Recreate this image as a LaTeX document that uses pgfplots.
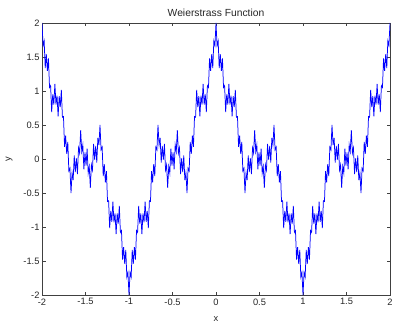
\documentclass[border=0pt]{standalone}
\usepackage{fontspec}
\setmainfont{Liberation Sans}
\usepackage{pgfplots}
\usepackage{pgfplotstable}
\pgfplotsset{compat=1.18}
\pgfplotstableread{
m w
-162 2.0000
-161 1.6683
-160 1.7375
-159 1.3381
-158 1.5407
-157 1.2947
-156 1.4811
-155 1.0525
-154 1.0784
-153 0.6897
-152 0.9514
-151 0.7998
-150 1.1055
-149 0.7987
-148 0.9330
-147 0.6269
-146 0.9242
-145 0.7648
-144 1.0160
-143 0.6144
-142 0.6248
-141 0.1782
-140 0.3441
-139 0.0751
-138 0.2523
-137 -0.1749
-136 -0.1358
-135 -0.5000
-134 -0.2030
-133 -0.3091
-132 0.0512
-131 -0.1925
-130 0.0103
-129 -0.2212
-128 0.1603
-127 0.0855
-126 0.4237
-125 0.1097
-124 0.2074
-123 -0.1537
-122 0.0962
-121 -0.0962
-120 0.1537
-119 -0.2074
-118 -0.1097
-117 -0.4237
-116 -0.0855
-115 -0.1603
-114 0.2212
-113 -0.0103
-112 0.1925
-111 -0.0512
-110 0.3091
-109 0.2030
-108 0.5000
-107 0.1358
-106 0.1749
-105 -0.2523
-104 -0.0751
-103 -0.3441
-102 -0.1782
-101 -0.6248
-100 -0.6144
-99 -1.0160
-98 -0.7648
-97 -0.9242
-96 -0.6269
-95 -0.9330
-94 -0.7987
-93 -1.1055
-92 -0.7998
-91 -0.9514
-90 -0.6897
-89 -1.0784
-88 -1.0525
-87 -1.4811
-86 -1.2947
-85 -1.5407
-84 -1.3381
-83 -1.7375
-82 -1.6683
-81 -2.0000
-80 -1.6683
-79 -1.7375
-78 -1.3381
-77 -1.5407
-76 -1.2947
-75 -1.4811
-74 -1.0525
-73 -1.0784
-72 -0.6897
-71 -0.9514
-70 -0.7998
-69 -1.1055
-68 -0.7987
-67 -0.9330
-66 -0.6269
-65 -0.9242
-64 -0.7648
-63 -1.0160
-62 -0.6144
-61 -0.6248
-60 -0.1782
-59 -0.3441
-58 -0.0751
-57 -0.2523
-56 0.1749
-55 0.1358
-54 0.5000
-53 0.2030
-52 0.3091
-51 -0.0512
-50 0.1925
-49 -0.0103
-48 0.2212
-47 -0.1603
-46 -0.0855
-45 -0.4237
-44 -0.1097
-43 -0.2074
-42 0.1537
-41 -0.0962
-40 0.0962
-39 -0.1537
-38 0.2074
-37 0.1097
-36 0.4237
-35 0.0855
-34 0.1603
-33 -0.2212
-32 0.0103
-31 -0.1925
-30 0.0512
-29 -0.3091
-28 -0.2030
-27 -0.5000
-26 -0.1358
-25 -0.1749
-24 0.2523
-23 0.0751
-22 0.3441
-21 0.1782
-20 0.6248
-19 0.6144
-18 1.0160
-17 0.7648
-16 0.9242
-15 0.6269
-14 0.9330
-13 0.7987
-12 1.1055
-11 0.7998
-10 0.9514
-9 0.6897
-8 1.0784
-7 1.0525
-6 1.4811
-5 1.2947
-4 1.5407
-3 1.3381
-2 1.7375
-1 1.6683
0 2.0000
1 1.6683
2 1.7375
3 1.3381
4 1.5407
5 1.2947
6 1.4811
7 1.0525
8 1.0784
9 0.6897
10 0.9514
11 0.7998
12 1.1055
13 0.7987
14 0.9330
15 0.6269
16 0.9242
17 0.7648
18 1.0160
19 0.6144
20 0.6248
21 0.1782
22 0.3441
23 0.0751
24 0.2523
25 -0.1749
26 -0.1358
27 -0.5000
28 -0.2030
29 -0.3091
30 0.0512
31 -0.1925
32 0.0103
33 -0.2212
34 0.1603
35 0.0855
36 0.4237
37 0.1097
38 0.2074
39 -0.1537
40 0.0962
41 -0.0962
42 0.1537
43 -0.2074
44 -0.1097
45 -0.4237
46 -0.0855
47 -0.1603
48 0.2212
49 -0.0103
50 0.1925
51 -0.0512
52 0.3091
53 0.2030
54 0.5000
55 0.1358
56 0.1749
57 -0.2523
58 -0.0751
59 -0.3441
60 -0.1782
61 -0.6248
62 -0.6144
63 -1.0160
64 -0.7648
65 -0.9242
66 -0.6269
67 -0.9330
68 -0.7987
69 -1.1055
70 -0.7998
71 -0.9514
72 -0.6897
73 -1.0784
74 -1.0525
75 -1.4811
76 -1.2947
77 -1.5407
78 -1.3381
79 -1.7375
80 -1.6683
81 -2.0000
82 -1.6683
83 -1.7375
84 -1.3381
85 -1.5407
86 -1.2947
87 -1.4811
88 -1.0525
89 -1.0784
90 -0.6897
91 -0.9514
92 -0.7998
93 -1.1055
94 -0.7987
95 -0.9330
96 -0.6269
97 -0.9242
98 -0.7648
99 -1.0160
100 -0.6144
101 -0.6248
102 -0.1782
103 -0.3441
104 -0.0751
105 -0.2523
106 0.1749
107 0.1358
108 0.5000
109 0.2030
110 0.3091
111 -0.0512
112 0.1925
113 -0.0103
114 0.2212
115 -0.1603
116 -0.0855
117 -0.4237
118 -0.1097
119 -0.2074
120 0.1537
121 -0.0962
122 0.0962
123 -0.1537
124 0.2074
125 0.1097
126 0.4237
127 0.0855
128 0.1603
129 -0.2212
130 0.0103
131 -0.1925
132 0.0512
133 -0.3091
134 -0.2030
135 -0.5000
136 -0.1358
137 -0.1749
138 0.2523
139 0.0751
140 0.3441
141 0.1782
142 0.6248
143 0.6144
144 1.0160
145 0.7648
146 0.9242
147 0.6269
148 0.9330
149 0.7987
150 1.1055
151 0.7998
152 0.9514
153 0.6897
154 1.0784
155 1.0525
156 1.4811
157 1.2947
158 1.5407
159 1.3381
160 1.7375
161 1.6683
162 2.0000
}\weier
\begin{document}
\begin{tikzpicture}
\useasboundingbox (-42pt,-29pt) rectangle (351pt,295pt);
\begin{axis}[
  scale only axis,
  width=348pt, height=272pt,
  xmin=-2, xmax=2, ymin=-2, ymax=2,
  xtick={-2,-1.5,...,2}, ytick={-2,-1.5,...,2},
  tick align=inside,
  major tick length=3.5pt,
  axis line style={black!75, line width=0.5pt},
  every tick/.style={black!75, line width=0.5pt},
  /pgf/number format/assume math mode=true,
  ticklabel style={font=\fontsize{9.3}{10}\selectfont, text=black!85},
  xticklabel style={yshift=0pt},
  yticklabel style={xshift=1pt},
  title={Weierstrass Function},
  title style={font=\fontsize{10.3}{11}\selectfont, text=black!85, yshift=-3pt},
  xlabel={x}, ylabel={y},
  label style={font=\fontsize{9.3}{10}\selectfont, text=black!85},
  xlabel style={yshift=-5pt},
  ylabel style={yshift=4pt},
]
\addplot[color={rgb,1:red,0;green,0;blue,1}, line width=0.75pt, no markers] table[x expr=\thisrow{m}/81, y=w] {\weier};
\end{axis}
\end{tikzpicture}
\end{document}
